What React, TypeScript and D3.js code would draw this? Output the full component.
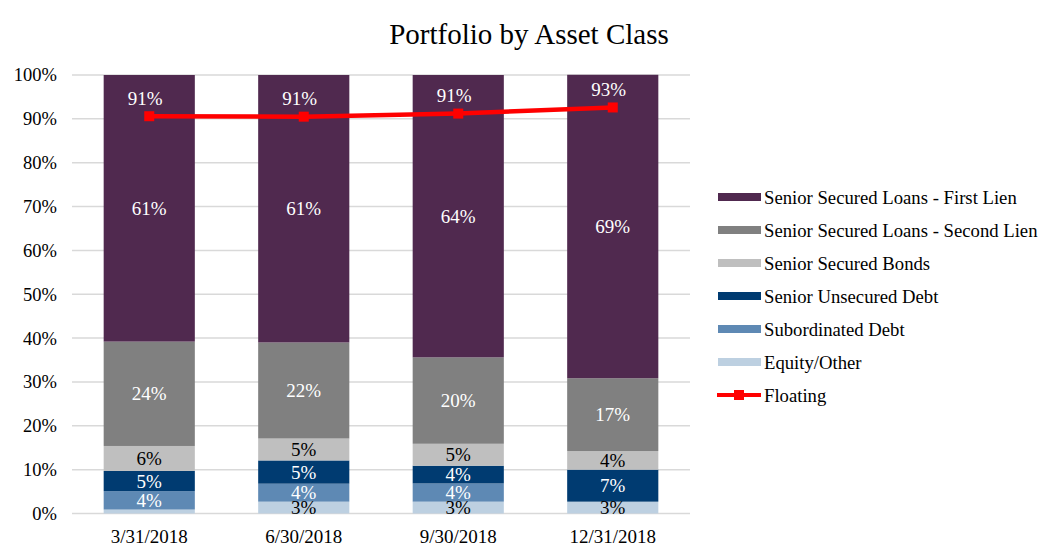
import React from "react";
import * as d3 from "d3";

const categories = ["3/31/2018", "6/30/2018", "9/30/2018", "12/31/2018"];
const seriesNames = [
  "Equity/Other",
  "Subordinated Debt",
  "Senior Unsecured Debt",
  "Senior Secured Bonds",
  "Senior Secured Loans - Second Lien",
  "Senior Secured Loans - First Lien",
];
const equityOther = [0.9, 2.7, 2.7, 2.7];
const subordinated = [4.2, 4.1, 4.15, 0];
const seniorUnsecured = [4.6, 5.3, 4.05, 7.3];
const seniorBonds = [5.7, 5.0, 5.0, 4.25];
const secondLien = [23.8, 21.9, 19.7, 16.6];
const firstLien = [60.8, 61.0, 64.4, 69.2];
const floating = [90.6, 90.5, 91.2, 92.6];
const yTicks = [0, 10, 20, 30, 40, 50, 60, 70, 80, 90, 100];

const seriesValues = [equityOther, subordinated, seniorUnsecured, seniorBonds, secondLien, firstLien];
const colors = ["#BDD0E1", "#5E89B4", "#003B71", "#BFBFBF", "#808080", "#50294F"];
const labelColors = ["#000", "#fff", "#fff", "#000", "#fff", "#fff"];
const legendOrder = [5, 4, 3, 2, 1, 0];

export default function App() {
  const W = 1060, H = 559;
  const x = d3.scaleBand().domain(categories).range([72, 690]).paddingInner(0.41).paddingOuter(0.205);
  const y = d3.scaleLinear().domain([0, 100]).range([513.5, 75]);
  const font = "'Liberation Serif', 'Times New Roman', serif";

  const rows = categories.map((c, i) => {
    const r: any = { cat: c };
    seriesNames.forEach((s, k) => (r[s] = seriesValues[k][i]));
    return r;
  });
  const stacked = d3.stack().keys(seriesNames)(rows);
  const line = d3.line<number>().x((_, i) => x(categories[i])! + x.bandwidth() / 2).y((d) => y(d));

  return (
    <svg width={W} height={H} style={{ position: "absolute", left: 0, top: 0, background: "#fff" }} fontFamily={font}>
      <text x={529} y={44} textAnchor="middle" fontSize={29} fill="#000">Portfolio by Asset Class</text>
      {yTicks.map((t) => (
        <g key={t}>
          <line x1={72} x2={690} y1={y(t)} y2={y(t)} stroke="#D9D9D9" strokeWidth={1.5} />
          <text x={57} y={y(t)} dy="0.35em" textAnchor="end" fontSize={18.5} fill="#000">{t}%</text>
        </g>
      ))}
      {stacked.map((layer, k) => (
        <g key={layer.key}>
          {layer.map((d, i) => {
            const h = y(d[0]) - y(d[1]);
            if (h <= 0) return null;
            return (
              <rect key={i} x={x(categories[i])} width={x.bandwidth()} y={y(d[1])} height={h} fill={colors[k]} />
            );
          })}
        </g>
      ))}
      {stacked.map((layer, k) => (
        <g key={"l" + layer.key}>
          {layer.map((d, i) => {
            const v = d[1] - d[0];
            if (v < 2) return null;
            return (
              <text key={i} x={x(categories[i])! + x.bandwidth() / 2} y={y((d[0] + d[1]) / 2)} dy="0.35em"
                textAnchor="middle" fontSize={19} fill={labelColors[k]}>{Math.round(v)}%</text>
            );
          })}
        </g>
      ))}
      <path d={line(floating)!} fill="none" stroke="#FF0000" strokeWidth={4.5} />
      {floating.map((v, i) => (
        <g key={"f" + i}>
          <rect x={x(categories[i])! + x.bandwidth() / 2 - 5} y={y(v) - 5} width={10} height={10} fill="#FF0000" />
          <text x={x(categories[i])! + x.bandwidth() / 2 - 4} y={y(v) - 18} dy="0.35em" textAnchor="middle" fontSize={19} fill="#fff">
            {Math.round(v)}%
          </text>
        </g>
      ))}
      {categories.map((c) => (
        <text key={c} x={x(c)! + x.bandwidth() / 2} y={536} dy="0.35em" textAnchor="middle" fontSize={19} fill="#000">{c}</text>
      ))}
      {legendOrder.map((k, j) => {
        const ly = 197 + j * 33;
        return (
          <g key={"lg" + k}>
            <rect x={718} y={ly - 4} width={43} height={8} fill={colors[k]} />
            <text x={764} y={ly} dy="0.35em" fontSize={18.7} fill="#000">{seriesNames[k]}</text>
          </g>
        );
      })}
      <g>
        <line x1={717} x2={761} y1={197 + 6 * 33} y2={197 + 6 * 33} stroke="#FF0000" strokeWidth={4} />
        <rect x={734} y={197 + 6 * 33 - 5} width={10} height={10} fill="#FF0000" />
        <text x={764} y={197 + 6 * 33} dy="0.35em" fontSize={18.7} fill="#000">Floating</text>
      </g>
    </svg>
  );
}
